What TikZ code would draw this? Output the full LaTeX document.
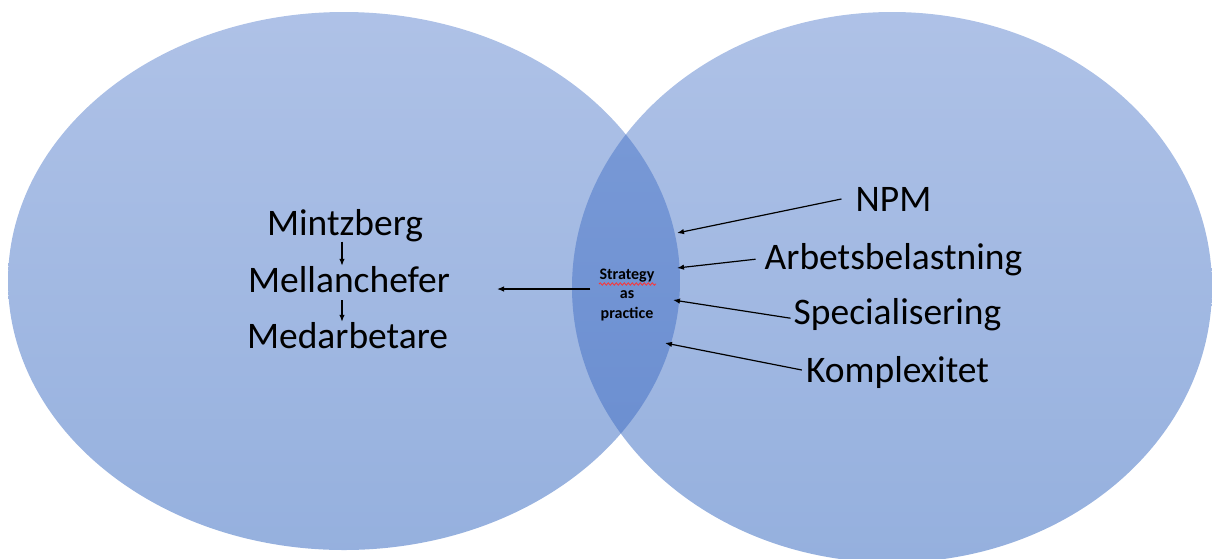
\documentclass[tikz,border=0pt]{standalone}
\usepackage{fontspec}
\setmainfont{Carlito}
\usetikzlibrary{arrows.meta,decorations.pathmorphing}
\definecolor{eTop}{RGB}{175,194,231}
\definecolor{eBot}{RGB}{149,176,222}
\definecolor{oTop}{RGB}{124,156,216}
\definecolor{oBot}{RGB}{104,140,207}
\tikzset{
  big/.style={font=\fontsize{37.5}{45}\selectfont, inner sep=0pt, anchor=base, text=black},
  small/.style={font=\fontsize{16}{19.5}\selectfont\bfseries, inner sep=0pt, anchor=base, align=center, text=black},
  arr/.style={line width=1.2pt, -{Latex[length=7pt,width=5.5pt]}},
}
\begin{document}
\begin{tikzpicture}[x=1pt,y=-1pt]
\useasboundingbox (0,0) rectangle (1212,558);
% ellipses
\begin{scope}
  \clip (344,281) ellipse [x radius=336, y radius=269];
  \shade[top color=eTop,bottom color=eBot] (0,0) rectangle (1212,558);
\end{scope}
\begin{scope}
  \clip (892,287.3) ellipse [x radius=320, y radius=275.3];
  \shade[top color=eTop,bottom color=eBot] (0,0) rectangle (1212,558);
\end{scope}
\begin{scope}
  \clip (344,281) ellipse [x radius=336, y radius=269];
  \clip (892,287.3) ellipse [x radius=320, y radius=275.3];
  \shade[top color=oTop,bottom color=oBot] (0,0) rectangle (1212,558);
\end{scope}
% left texts
\node[big] (mintz) at (345,235) {Mintzberg};
\node[big] (mell) at (349,292) {Mellanchefer};
\node[big] (medarb) at (347.5,348) {Medarbetare};
\draw[arr] ([xshift=-3pt]mintz.south) -- ([xshift=-3pt]mintz.south |- mell.north);
\draw[arr, shorten <=8pt] ([xshift=-7pt]mell.south) -- ([xshift=-7pt]mell.south |- medarb.north);
% centre
\node[small] (sap) at (627,318) {Strategy\\as\\practice};
\draw[red!80!white, line width=0.8pt, decorate, decoration={snake, amplitude=1.2pt, segment length=4pt}] (599,284) -- (656,284);
\coordinate (tL) at (497,289);
\draw[arr] ([xshift=-9pt]sap.west |- tL) -- (tL);
% right texts
\node[big] (npm) at (893.5,211) {NPM};
\node[big] (arb) at (893.5,269) {Arbetsbelastning};
\node[big] (spe) at (897.5,324) {Specialisering};
\node[big] (kom) at (897.5,382) {Komplexitet};
\coordinate (tN) at (677,233);
\coordinate (tA) at (677,268);
\coordinate (tS) at (673,300);
\coordinate (tK) at (665,343);
\draw[arr] ([xshift=-14pt]npm.west) -- (tN);
\draw[arr] ([xshift=-9pt]arb.west) -- (tA);
\draw[arr] ([xshift=-3pt,yshift=-4pt]spe.west) -- (tS);
\draw[arr] ([xshift=-4pt,yshift=2pt]kom.west) -- (tK);
\end{tikzpicture}
\end{document}
